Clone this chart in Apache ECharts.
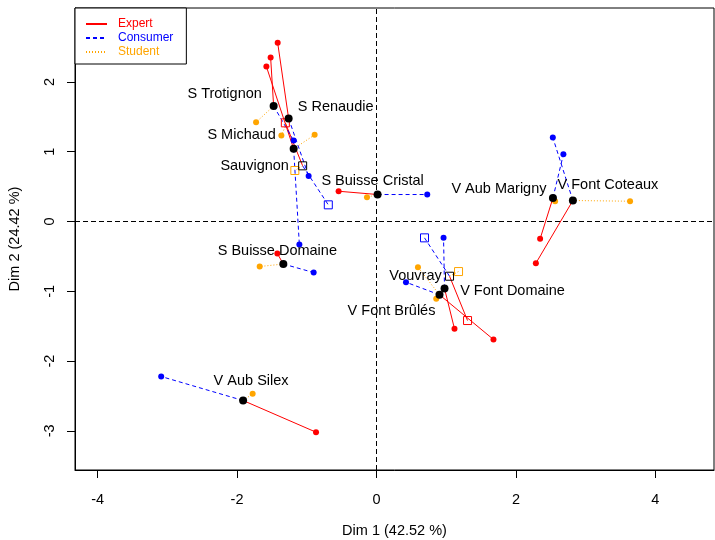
<!DOCTYPE html>
<html><head><meta charset="utf-8">
<script src="https://cdn.jsdelivr.net/npm/echarts@6/dist/echarts.min.js"></script>
<style>html,body{margin:0;padding:0;background:#fff}#c{width:715px;height:540px}</style>
</head><body><div id="c"></div>
<script>
// ---- data ----
const individuals = ['S Michaud','S Renaudie','S Trotignon','S Buisse Domaine','S Buisse Cristal','V Aub Silex','V Aub Marigny','V Font Domaine','V Font Brûlés','V Font Coteaux'];
const meanPts     = [[-1.188,1.042],[-1.260,1.476],[-1.475,1.655],[-1.336,-0.609],[0.016,0.387],[-1.913,-2.565],[2.531,0.337],[0.976,-0.960],[0.904,-1.050],[2.817,0.301]];
const expertPts   = [[-1.579,2.221],[-1.417,2.561],[-1.518,2.350],[-1.422,-0.459],[-0.543,0.434],[-0.867,-3.019],[2.347,-0.248],[1.119,-1.538],[1.678,-1.691],[2.286,-0.598]];
const consumerPts = [[-1.106,-0.330],[-0.973,0.652],[-1.188,1.161],[-0.901,-0.731],[0.728,0.387],[-3.088,-2.221],[2.681,0.964],[0.962,-0.234],[0.423,-0.870],[2.529,1.204]];
const studentPts  = [[-0.887,1.242],[-1.364,1.232],[-1.727,1.423],[-1.675,-0.645],[-0.136,0.348],[-1.776,-2.469],[2.562,0.291],[0.857,-1.108],[0.595,-0.655],[3.637,0.291]];

const categories     = ['Sauvignon','Vouvray'];
const catMeanPts     = [[-1.059,0.798],[1.048,-0.784]];
const catExpertPts   = [[-1.307,1.414],[1.306,-1.419]];
const catConsumerPts = [[-0.691,0.239],[0.689,-0.234]];
const catStudentPts  = [[-1.171,0.731],[1.177,-0.717]];

const groups = ['Expert','Consumer','Student'];
const xTicks = [-4,-2,0,2,4];
const yTicks = [-3,-2,-1,0,1,2];
const xTitle = 'Dim 1 (42.52 %)';
const yTitle = 'Dim 2 (24.42 %)';

// ---- layout / style (not data) ----
const labelOffsets    = [[-52,-14],[47,-12],[-49,-12],[-6,-13],[-5,-14],[8,-20],[-54,-9],[68,2],[-48,16],[35,-16]];
const catLabelOffsets = [[-48,0],[-34,0]];
const colors = {Expert:'#FF0000', Consumer:'#0000FF', Student:'#FFA500'};
const dashes = {Expert:'solid', Consumer:[4,3], Student:[1,2]};
const FONT = 'Liberation Sans, Arial, Helvetica, sans-serif';

const partial = {Expert:expertPts, Consumer:consumerPts, Student:studentPts};
const catPartial = {Expert:catExpertPts, Consumer:catConsumerPts, Student:catStudentPts};

function segments(g){
  const out = [];
  meanPts.forEach((m,i)=>{ out.push(m, partial[g][i], null); });
  catMeanPts.forEach((m,i)=>{ out.push(m, catPartial[g][i], null); });
  return out;
}

const series = [];
groups.forEach((g,k)=>{
  const s = {
    name:g, type:'line', data:segments(g), connectNulls:false,
    symbol:'none', showSymbol:false, silent:true, animation:false,
    lineStyle:{color:colors[g], width:1, type:dashes[g]}, itemStyle:{color:colors[g]}, z:2
  };
  if(k===0){
    s.markLine = {silent:true, symbol:'none', label:{show:false},
      lineStyle:{color:'#000', width:1, type:[5,3]},
      data:[{xAxis:0},{yAxis:0}]};
  }
  series.push(s);
});
groups.forEach(g=>{
  series.push({name:g+' pts', type:'scatter', data:partial[g], symbol:'circle', symbolSize:6,
    itemStyle:{color:colors[g], opacity:1}, silent:true, animation:false, z:3});
  series.push({name:g+' cat', type:'scatter', data:catPartial[g], symbol:'rect', symbolSize:8,
    itemStyle:{color:'rgba(0,0,0,0)', borderColor:colors[g], borderWidth:1, opacity:1}, silent:true, animation:false, z:3});
});
series.push({name:'categories', type:'scatter', symbol:'rect', symbolSize:8,
  data:catMeanPts.map((p,i)=>({value:p, name:categories[i],
    label:{show:true, position:'inside', offset:catLabelOffsets[i], formatter:categories[i], color:'#000'}})),
  itemStyle:{color:'rgba(0,0,0,0)', borderColor:'#000', borderWidth:1, opacity:1},
  label:{color:'#000', fontSize:14.5, fontFamily:FONT}, silent:true, animation:false, z:4});
series.push({name:'individuals', type:'scatter', symbol:'circle', symbolSize:8,
  data:meanPts.map((p,i)=>({value:p, name:individuals[i],
    label:{show:true, position:'inside', offset:labelOffsets[i], formatter:individuals[i], color:'#000'}})),
  itemStyle:{color:'#000', opacity:1},
  label:{color:'#000', fontSize:14.5, fontFamily:FONT}, silent:true, animation:false, z:5});

const chart = echarts.init(document.getElementById('c'), null, {renderer:'canvas'});
chart.setOption({
  animation:false,
  backgroundColor:'#fff',
  textStyle:{fontFamily:FONT},
  grid:{left:75, right:1, top:8, bottom:70, show:true, borderColor:'#000', borderWidth:1,
    containLabel:false, outerBoundsMode:'none'},
  legend:{
    data:groups.map(g=>({name:g, textStyle:{color:colors[g]}})),
    orient:'vertical', left:75, top:8, backgroundColor:'#fff',
    borderColor:'#000', borderWidth:1, padding:[10,13,6,10],
    itemWidth:21, itemHeight:10, itemGap:2,
    itemStyle:{color:'rgba(0,0,0,0)', borderWidth:0, opacity:0},
    textStyle:{fontSize:12, fontFamily:FONT, padding:[0,0,0,6]},
    selectedMode:false
  },
  xAxis:{type:'value', min:-4.324, max:4.841, name:xTitle, nameLocation:'middle', nameGap:53,
    nameTextStyle:{color:'#000', fontSize:14.5, fontFamily:FONT},
    axisLine:{show:true, onZero:false, lineStyle:{color:'#000'}},
    axisTick:{show:true, length:8, customValues:xTicks, lineStyle:{color:'#000'}},
    axisLabel:{customValues:xTicks, margin:22, color:'#000', fontSize:14.5, fontFamily:FONT},
    splitLine:{show:false}},
  yAxis:{type:'value', min:-3.561, max:3.060, name:yTitle, nameLocation:'middle', nameGap:53,
    nameTextStyle:{color:'#000', fontSize:14.5, fontFamily:FONT},
    axisLine:{show:true, onZero:false, lineStyle:{color:'#000'}},
    axisTick:{show:true, length:8, customValues:yTicks, lineStyle:{color:'#000'}},
    axisLabel:{customValues:yTicks, rotate:90, margin:18, color:'#000', fontSize:14.5, fontFamily:FONT},
    splitLine:{show:false}},
  series:series
});
</script></body></html>
